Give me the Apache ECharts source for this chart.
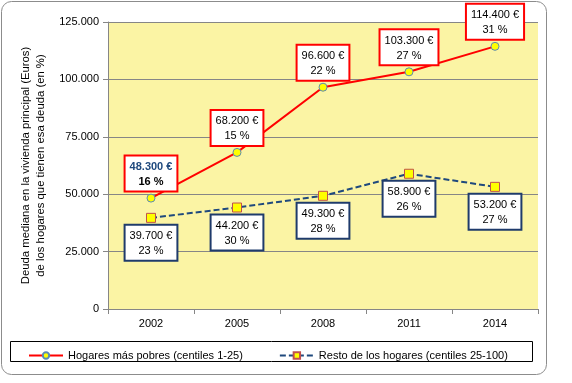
<!DOCTYPE html>
<html><head><meta charset="utf-8">
<script src="https://cdn.jsdelivr.net/npm/echarts@6/dist/echarts.min.js"></script>
<style>html,body{margin:0;padding:0;background:#fff}#c{width:572px;height:383px}</style>
</head><body><div id="c"></div>
<script>
var categories = ['2002','2005','2008','2011','2014'];
var poorValues = [48300, 68200, 96600, 103300, 114400];
var poorPct = [16, 15, 22, 27, 31];
var restValues = [39700, 44200, 49300, 58900, 53200];
var restPct = [23, 30, 28, 26, 27];
var yTicks = [0, 25000, 50000, 75000, 100000, 125000];
var seriesNames = ['Hogares más pobres (centiles 1-25)', 'Resto de los hogares (centiles 25-100)'];

function fmt(v){ return String(v).replace(/\B(?=(\d{3})+(?!\d))/g, '.'); }

var font = 'Liberation Sans, Arial, sans-serif';
var chart = echarts.init(document.getElementById('c'));
chart.setOption({
  animation: false,
  textStyle: {fontFamily: font},
  graphic: [
    {type:'rect', shape:{x:1.5,y:1.5,width:545,height:373,r:10}, style:{fill:'none', stroke:'#8c8c8c', lineWidth:1}, z:-1},
    {type:'rect', shape:{x:10.5,y:341.5,width:522,height:20}, style:{fill:'#fff', stroke:'#000', lineWidth:1}, z:-1}
  ],
  grid: {left:108, right:34, top:22, bottom:74, show:true, backgroundColor:'#FBF4A4', borderWidth:0},
  legend: {
    left: 23, top: 345, itemGap: 36, itemWidth: 34, itemHeight: 8,
    textStyle: {fontSize: 11, color:'#000', fontFamily: font},
    data: seriesNames
  },
  xAxis: {
    type:'category', data: categories, boundaryGap: true,
    axisLine:{lineStyle:{color:'#868686'}},
    axisTick:{show:true, length:5, lineStyle:{color:'#868686'}},
    axisLabel:{color:'#000', fontSize:11, margin:9}
  },
  yAxis: {
    type:'value', min: yTicks[0], max: yTicks[yTicks.length-1], interval: 25000,
    name: 'Deuda mediana en la vivienda principal (Euros)\nde los hogares que tienen esa deuda (en %)',
    nameLocation:'middle', nameGap: 60, nameRotate: 90,
    nameTextStyle:{fontSize:11.3, color:'#000', lineHeight:15},
    axisLine:{show:true, lineStyle:{color:'#868686'}},
    axisTick:{show:true, length:5, lineStyle:{color:'#868686'}},
    splitLine:{lineStyle:{color:'#868686'}},
    axisLabel:{color:'#000', fontSize:11, margin:9, formatter: function(v){ return fmt(v); }}
  },
  series: [
    {
      name: seriesNames[0], type:'line', data: poorValues,
      symbol:'circle', symbolSize:8,
      lineStyle:{color:'#FF0000', width:2},
      itemStyle:{color:'#FFFF00', borderColor:'#5B8AB5', borderWidth:1},
      label:{
        show:true, position:'top', distance:3,
        backgroundColor:'#fff', borderColor:'#FF0000', borderWidth:2,
        padding:[3,4,1,4], align:'center',
        formatter: function(p){
          var i = p.dataIndex;
          if (i === 0) return '{b1|' + fmt(poorValues[i]) + ' €}\n{b2|' + poorPct[i] + ' %}';
          return '{n|' + fmt(poorValues[i]) + ' €}\n{n|' + poorPct[i] + ' %}';
        },
        rich:{
          n:{fontSize:11, color:'#000', lineHeight:15, align:'center'},
          b1:{fontSize:11, color:'#1F497D', fontWeight:'bold', lineHeight:15, align:'center'},
          b2:{fontSize:11, color:'#000', fontWeight:'bold', lineHeight:15, align:'center'}
        }
      },
      z:3
    },
    {
      name: seriesNames[1], type:'line', data: restValues,
      symbol:'rect', symbolSize:9,
      lineStyle:{color:'#1F497D', width:2, type:[6,3]},
      itemStyle:{color:'#FFFF00', borderColor:'#C0504D', borderWidth:1},
      label:{
        show:true, position:'bottom', distance:3,
        backgroundColor:'#fff', borderColor:'#1F3B6B', borderWidth:2,
        padding:[3,4,1,4], align:'center',
        formatter: function(p){
          var i = p.dataIndex;
          return '{n|' + fmt(restValues[i]) + ' €}\n{n|' + restPct[i] + ' %}';
        },
        rich:{ n:{fontSize:11, color:'#000', lineHeight:15, align:'center'} }
      },
      z:2
    }
  ]
});
</script></body></html>
